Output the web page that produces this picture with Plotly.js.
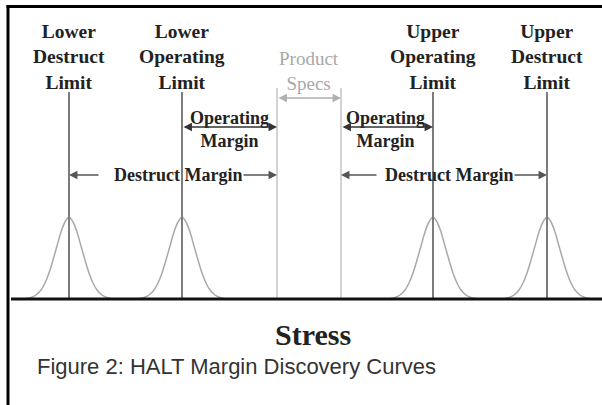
<!DOCTYPE html>
<html>
<head>
<meta charset="utf-8">
<script src="https://cdn.plot.ly/plotly-3.0.1.min.js"></script>
<style>html,body{margin:0;padding:0;background:#fff;}#chart{width:602px;height:405px;}</style>
</head>
<body>
<div id="chart"></div>
<script>
// ---- data (stress units) ----
const limitLabels = ['Lower<br>Destruct<br>Limit', 'Lower<br>Operating<br>Limit', 'Upper<br>Operating<br>Limit', 'Upper<br>Destruct<br>Limit'];
const limitStress = [69, 182, 433, 547];
const specLabel = 'Product<br>Specs';
const specStress = [277, 341];
const marginLabels = ['Operating<br>Margin', 'Destruct Margin'];

// bell curves (failure distribution around each limit)
const curveLDX = [24, 31, 36, 41, 45, 49, 53, 57, 61, 65, 69, 73, 77, 81, 85, 89, 93, 97, 102, 107, 114];
const curveLOX = [137, 144, 149, 154, 158, 162, 166, 170, 174, 178, 182, 186, 190, 194, 198, 202, 206, 210, 215, 220, 227];
const curveUOX = [388, 395, 400, 405, 409, 413, 417, 421, 425, 429, 433, 437, 441, 445, 449, 453, 457, 461, 466, 471, 478];
const curveUDX = [502, 509, 514, 519, 523, 527, 531, 535, 539, 543, 547, 551, 555, 559, 563, 567, 571, 575, 580, 585, 592];
const curveH   = [0, 1.5, 4, 9, 16, 26, 39, 53, 67, 77, 82, 77, 67, 53, 39, 26, 16, 9, 4, 1.5, 0];

const axisTitle = 'Stress';
const caption = 'Figure 2: HALT Margin Discovery Curves';

// ---- layout constants ----
const LIMIT_TOP = 207, SPEC_TOP = 211;
const serif = 'Liberation Serif, Times New Roman, serif';
const sans = 'Liberation Sans, Arial, sans-serif';

const traces = [];
[curveLDX, curveLOX, curveUOX, curveUDX].forEach(xs => {
  traces.push({x: xs, y: curveH, type: 'scatter', mode: 'lines', line: {color: '#a9a9a9', width: 1.5, shape: 'spline'}, hoverinfo: 'skip', showlegend: false});
});
function vlines(xs, top) {
  const X = [], Y = [];
  xs.forEach(v => { X.push(v, v, null); Y.push(0, top, null); });
  return {X, Y};
}
const lv = vlines(limitStress, LIMIT_TOP);
traces.push({x: lv.X, y: lv.Y, type: 'scatter', mode: 'lines', line: {color: '#7c7c7c', width: 2}, hoverinfo: 'skip', showlegend: false});
const sv = vlines(specStress, SPEC_TOP);
traces.push({x: sv.X, y: sv.Y, type: 'scatter', mode: 'lines', line: {color: '#c4c4c4', width: 1.5}, hoverinfo: 'skip', showlegend: false});

const ann = [];
limitStress.forEach((v, i) => ann.push({x: v, y: 242, text: limitLabels[i], showarrow: false, xanchor: 'center', yanchor: 'middle',
  font: {family: serif, size: 19.5, weight: 'bold', color: '#222'}}));
ann.push({x: (specStress[0] + specStress[1]) / 2, y: 228, text: specLabel, showarrow: false, yanchor: 'middle',
  font: {family: serif, size: 19, color: '#a8a8a8'}});
// operating margins
ann.push({x: (limitStress[1] + specStress[0]) / 2, y: 169.5, text: marginLabels[0], showarrow: false, yanchor: 'middle',
  font: {family: serif, size: 18, weight: 'bold', color: '#222'}});
ann.push({x: (specStress[1] + limitStress[2]) / 2 - 2, y: 169.5, text: marginLabels[0], showarrow: false, yanchor: 'middle',
  font: {family: serif, size: 18, weight: 'bold', color: '#222'}});
// destruct margins
ann.push({x: 177.5, y: 124, text: marginLabels[1], showarrow: false, yanchor: 'middle',
  font: {family: serif, size: 18, weight: 'bold', color: '#222'}});
ann.push({x: 449, y: 124, text: marginLabels[1], showarrow: false, yanchor: 'middle',
  font: {family: serif, size: 18, weight: 'bold', color: '#222'}});
// axis title
ann.push({x: 313, y: -35, text: axisTitle, showarrow: false, yanchor: 'middle',
  font: {family: serif, size: 30, weight: 'bold', color: '#222'}});

function arrow(x, ax, y, color, side) {
  return {x: x, y: y, ax: ax, ay: y, axref: 'x', ayref: 'y', xref: 'x', yref: 'y', text: '', showarrow: true,
    arrowhead: 2, arrowsize: 1.3, arrowwidth: 1.3, arrowcolor: color, arrowside: side || 'end', standoff: 0, startstandoff: 0};
}
ann.push(arrow(specStress[1], specStress[0], 201, '#b0b0b0', 'end+start'));
ann.push(arrow(specStress[0], limitStress[1], 172, '#333', 'end+start'));
ann.push(arrow(limitStress[2], specStress[1], 172, '#333', 'end+start'));
ann.push(arrow(limitStress[0], 100, 124, '#555'));
ann.push(arrow(specStress[0], 242, 124, '#555'));
ann.push(arrow(specStress[1], 378, 124, '#555'));
ann.push(arrow(limitStress[3], 513, 124, '#555'));

const shapes = [
  {type: 'line', xref: 'x', yref: 'y', x0: 11, x1: 602, y0: 0, y1: 0, line: {color: '#111', width: 3}},
  {type: 'line', xref: 'x', yref: 'y', x0: 8, x1: 8, y0: 294, y1: -110, line: {color: '#000', width: 3}},
  {type: 'line', xref: 'x', yref: 'y', x0: 6.5, x1: 605, y0: 292.5, y1: 292.5, line: {color: '#000', width: 3}}
];

const layout = {
  width: 602, height: 405,
  margin: {l: 0, r: 0, t: 0, b: 0},
  paper_bgcolor: '#fff', plot_bgcolor: '#fff',
  xaxis: {range: [0, 602], visible: false, fixedrange: true},
  yaxis: {range: [-106, 299], visible: false, fixedrange: true},
  title: {text: caption, x: 37 / 602, xref: 'container', xanchor: 'left', y: 1 - 366 / 405, yref: 'container', yanchor: 'middle',
    font: {family: sans, size: 22, color: '#333'}},
  annotations: ann,
  shapes: shapes,
  showlegend: false
};
Plotly.newPlot('chart', traces, layout, {displayModeBar: false, staticPlot: true});
</script>
</body>
</html>
